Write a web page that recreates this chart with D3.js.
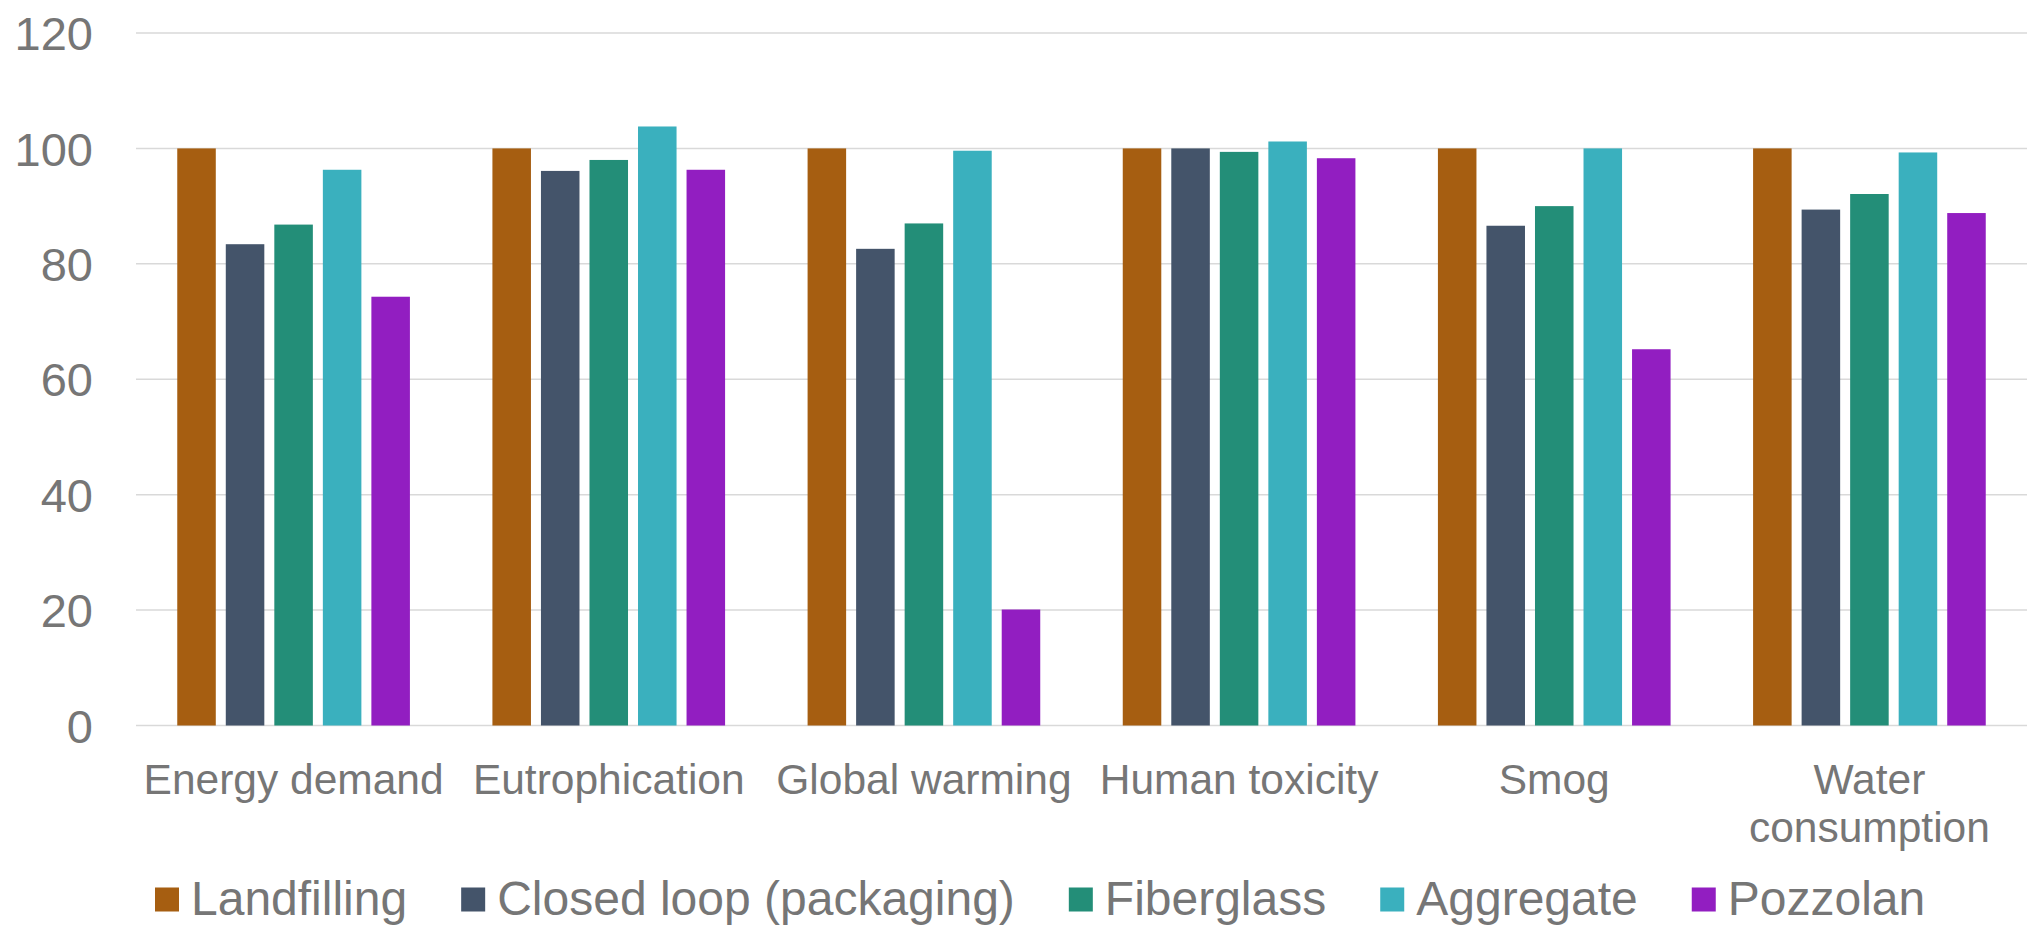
<!DOCTYPE html>
<html>
<head>
<meta charset="utf-8">
<script src="https://cdn.jsdelivr.net/npm/d3@7"></script>
<style>
  html, body { margin: 0; padding: 0; background: #fff; }
  svg { display: block; font-family: "Liberation Sans", Arial, sans-serif; }
</style>
</head>
<body>
<svg id="chart" width="2029" height="926"></svg>
<script>
const categories = ["Energy demand", "Eutrophication", "Global warming", "Human toxicity", "Smog", "Water consumption"];
const categoryLines = [["Energy demand"], ["Eutrophication"], ["Global warming"], ["Human toxicity"], ["Smog"], ["Water", "consumption"]];
const seriesNames = ["Landfilling", "Closed loop (packaging)", "Fiberglass", "Aggregate", "Pozzolan"];
const seriesColors = ["#A65E11", "#44546A", "#238E78", "#3AB0BE", "#921EC1"];
const landfilling = [100, 100, 100, 100, 100, 100];
const closedLoop  = [83.4, 96.1, 82.6, 100, 86.6, 89.4];
const fiberglass  = [86.8, 98.0, 87.0, 99.4, 90.0, 92.1];
const aggregate   = [96.3, 103.8, 99.6, 101.2, 100, 99.3];
const pozzolan    = [74.3, 96.3, 20.1, 98.3, 65.2, 88.8];
const yTicks = [0, 20, 40, 60, 80, 100, 120];

const seriesValues = [landfilling, closedLoop, fiberglass, aggregate, pozzolan];

(function () {
const svg = d3.select("#chart");
const plotLeft = 136, plotRight = 2027, plotTop = 33, plotBottom = 725.5;
const textColor = "#767676";

const x = d3.scaleBand().domain(categories).range([plotLeft, plotRight]).paddingInner(0).paddingOuter(0);
const xi = d3.scaleBand().domain(seriesNames).range([0, x.bandwidth()]).paddingInner(0.206).paddingOuter(0.85);
const y = d3.scaleLinear().domain([0, 120]).range([plotBottom, plotTop]);

// gridlines
svg.append("g").selectAll("line").data(yTicks).join("line")
  .attr("x1", plotLeft).attr("x2", plotRight)
  .attr("y1", d => y(d)).attr("y2", d => y(d))
  .attr("stroke", "#D9D9D9").attr("stroke-width", 1.5);

// y axis labels
const yAxis = d3.axisLeft(y).tickValues(yTicks).tickSize(0).tickPadding(0);
const yg = svg.append("g").attr("transform", "translate(93,0)").call(yAxis);
yg.select(".domain").remove();
yg.selectAll("text").attr("fill", textColor).attr("font-size", 47)
  .attr("font-family", "'Liberation Sans', Arial, sans-serif").attr("dy", "0.355em").attr("x", 0);

// bars
const groups = svg.append("g").selectAll("g").data(categories).join("g")
  .attr("transform", d => `translate(${x(d)},0)`);
groups.selectAll("rect")
  .data((c, ci) => seriesNames.map((s, si) => ({ s, si, v: seriesValues[si][ci] })))
  .join("rect")
  .attr("x", d => xi(d.s))
  .attr("width", xi.bandwidth())
  .attr("y", d => y(d.v))
  .attr("height", d => y(0) - y(d.v))
  .attr("fill", d => seriesColors[d.si]);

// x labels
const xl = svg.append("g").selectAll("text").data(categories).join("text")
  .attr("x", d => x(d) + x.bandwidth() / 2)
  .attr("y", 794)
  .attr("text-anchor", "middle")
  .attr("font-size", 42.5)
  .attr("fill", textColor);
xl.each(function(d, i) {
  d3.select(this).selectAll("tspan").data(categoryLines[i]).join("tspan")
    .attr("x", x(d) + x.bandwidth() / 2)
    .attr("dy", (t, j) => j === 0 ? 0 : 48)
    .text(t => t);
});

// legend
const legend = svg.append("g");
let lx = 155;
seriesNames.forEach((name, i) => {
  legend.append("rect").attr("x", lx).attr("y", 887.5).attr("width", 24).attr("height", 24)
    .attr("fill", seriesColors[i]);
  const t = legend.append("text").attr("x", lx + 36).attr("y", 915)
    .attr("font-size", 48).attr("fill", textColor).text(name);
  const w = t.node().getComputedTextLength();
  lx = lx + 36 + w + 54;
});
})();
</script>
</body>
</html>
